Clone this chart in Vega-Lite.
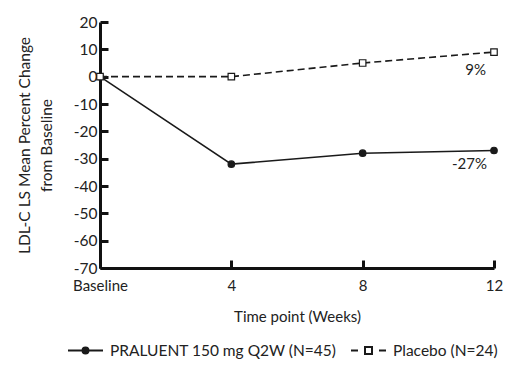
{
  "$schema": "https://vega.github.io/schema/vega-lite/v6.json",
  "autosize": {"type": "none"},
  "padding": {"left": 100, "top": 22, "right": 37, "bottom": 124},
  "width": 394,
  "height": 246,
  "background": "white",
  "config": {
    "view": {"stroke": null},
    "font": "Lato",
    "axis": {"grid": false}
  },
  "data": {
    "values": [
      {"week": 0, "value": 0, "group": "PRALUENT 150 mg Q2W (N=45)", "label": ""},
      {"week": 4, "value": -32, "group": "PRALUENT 150 mg Q2W (N=45)", "label": ""},
      {"week": 8, "value": -28, "group": "PRALUENT 150 mg Q2W (N=45)", "label": ""},
      {"week": 12, "value": -27, "group": "PRALUENT 150 mg Q2W (N=45)", "label": "-27%"},
      {"week": 0, "value": 0, "group": "Placebo (N=24)", "label": ""},
      {"week": 4, "value": 0, "group": "Placebo (N=24)", "label": ""},
      {"week": 8, "value": 5, "group": "Placebo (N=24)", "label": ""},
      {"week": 12, "value": 9, "group": "Placebo (N=24)", "label": "9%"}
    ]
  },
  "encoding": {
    "x": {
      "field": "week", "type": "quantitative",
      "scale": {"domain": [0, 12], "nice": false, "zero": false},
      "axis": {
        "values": [0, 4, 8, 12],
        "labelExpr": "datum.value === 0 ? 'Baseline' : '' + datum.value",
        "labelFlush": false,
        "title": "Time point (Weeks)",
        "domainColor": "#111", "domainWidth": 3,
        "tickColor": "#111", "tickWidth": 3, "tickSize": -8,
        "labelPadding": 18, "labelFontSize": 15, "labelColor": "#222",
        "titleFontSize": 15, "titleFontWeight": "normal", "titleColor": "#222",
        "titlePadding": 16
      }
    },
    "y": {
      "field": "value", "type": "quantitative",
      "scale": {"domain": [-70, 20], "nice": false, "zero": false},
      "axis": {
        "values": [-70, -60, -50, -40, -30, -20, -10, 0, 10, 20],
        "labelExpr": "'' + datum.value",
        "labelFlush": false,
        "title": ["LDL-C LS Mean Percent Change", "from Baseline"],
        "domainColor": "#111", "domainWidth": 3,
        "tickColor": "#111", "tickWidth": 3, "tickSize": -8,
        "labelPadding": 11, "labelFontSize": 15.5, "labelColor": "#222",
        "titleFontSize": 15.5, "titleFontWeight": "normal", "titleColor": "#222",
        "titleLineHeight": 22, "titlePadding": 19
      }
    }
  },
  "layer": [
    {
      "transform": [{"filter": "datum.group === 'PRALUENT 150 mg Q2W (N=45)'"}],
      "mark": {"type": "line", "color": "#1a1a1a", "strokeWidth": 1.6}
    },
    {
      "transform": [{"filter": "datum.group === 'Placebo (N=24)'"}],
      "mark": {"type": "line", "color": "#1a1a1a", "strokeWidth": 1.6, "strokeDash": [7, 4]}
    },
    {
      "mark": {"type": "point", "filled": false, "strokeWidth": 2, "opacity": 1, "size": 0},
      "encoding": {
        "shape": {
          "field": "group", "type": "nominal",
          "scale": {"domain": ["PRALUENT 150 mg Q2W (N=45)", "Placebo (N=24)"], "range": ["M-1,0H1M-0.17,0A0.17,0.17 0 1,0 0.17,0A0.17,0.17 0 1,0 -0.17,0", "M-1,0H-0.6M-0.2,-0.2H0.2V0.2H-0.2ZM0.6,0H1"]},
          "legend": {
            "orient": "none", "legendX": -33, "legendY": 310,
            "direction": "horizontal", "title": null,
            "symbolSize": 1225, "symbolStrokeWidth": 2,
            "labelFontSize": 15.5, "labelColor": "#222", "labelOffset": 6, "labelLimit": 400,
            "columnPadding": 10
          }
        },
        "fill": {
          "field": "group", "type": "nominal",
          "scale": {"domain": ["PRALUENT 150 mg Q2W (N=45)", "Placebo (N=24)"], "range": ["#1a1a1a", "white"]}
        },
        "stroke": {
          "field": "group", "type": "nominal",
          "scale": {"domain": ["PRALUENT 150 mg Q2W (N=45)", "Placebo (N=24)"], "range": ["#1a1a1a", "#1a1a1a"]}
        }
      }
    },
    {
      "mark": {"type": "point", "filled": true, "stroke": "#1a1a1a", "strokeWidth": 1.2, "opacity": 1, "size": 42},
      "encoding": {
        "shape": {
          "condition": {"test": "datum.group === 'Placebo (N=24)'", "value": "square"},
          "value": "circle"
        },
        "fill": {
          "condition": {"test": "datum.group === 'Placebo (N=24)'", "value": "white"},
          "value": "#1a1a1a"
        }
      }
    },
    {
      "transform": [{"filter": "datum.label === '9%'"}],
      "mark": {"type": "text", "align": "right", "baseline": "middle", "dx": -8, "dy": 18, "fontSize": 15, "color": "#222"},
      "encoding": {"text": {"field": "label"}}
    },
    {
      "transform": [{"filter": "datum.label === '-27%'"}],
      "mark": {"type": "text", "align": "right", "baseline": "middle", "dx": -7, "dy": 14, "fontSize": 15, "color": "#222"},
      "encoding": {"text": {"field": "label"}}
    }
  ]
}
